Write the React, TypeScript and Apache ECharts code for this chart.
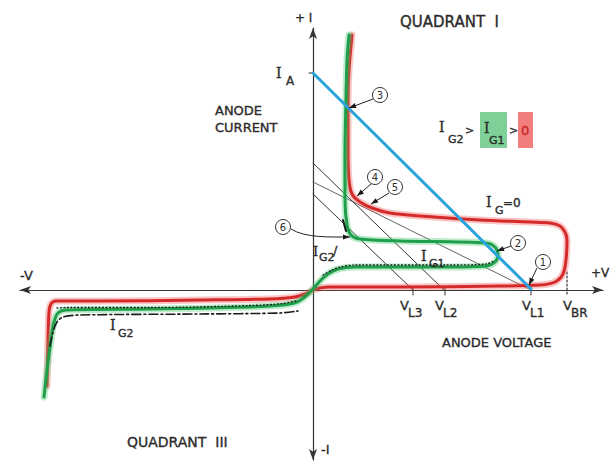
import React, { useEffect, useRef } from "react";
import * as echarts from "echarts";

// Chart units: X = voltage (origin at axis crossing), Y = current
const redCurve: number[][] = [
  [-266, -96], [-265, -50], [-264, -22], [-262, -14], [-257, -11], [-213, -11], [-113, -10],
  [-43, -9], [-18, -7], [-8, -4], [0, 0], [7, 2], [17, 3], [87, 3], [187, 4], [227, 5],
  [242, 8], [250, 16], [253, 30], [254, 50], [252, 58], [247, 64], [237, 67], [217, 68],
  [167, 70], [107, 74], [77, 77], [59, 82], [47, 88], [39, 96], [36, 110], [35, 140],
  [35, 190], [36, 220], [39, 255],
];
const greenCurve: number[][] = [
  [-269, -107], [-266, -80], [-262, -50], [-259, -32], [-255, -23], [-247, -20], [-163, -19],
  [-63, -17], [-30, -15], [-16, -12], [-7, -6], [0, 1], [7, 9], [15, 16], [25, 21], [42, 23],
  [137, 23], [173, 24], [182, 28], [185, 35], [182, 43], [173, 47], [87, 49], [47, 51],
  [38, 55], [34, 65], [32, 90], [32, 140], [33, 190], [34, 230], [36, 255],
];
const dottedG2Q3: number[][] = [
  [-256, -18], [-246, -17.5], [-163, -17.5], [-63, -15.5], [-30, -13.5], [-16, -10.5],
];
const dottedG2Q1: number[][] = [
  [10, 15], [18, 19.5], [27, 23], [42, 25], [137, 25], [173, 26], [181, 29],
];
const dashedG2: number[][] = [
  [-263, -56], [-260, -42], [-256, -32], [-250, -27], [-233, -25], [-113, -24], [-33, -23], [-15, -21],
];
const g2Short: number[][] = [[30, 70], [33, 59]];
const blueLoadLine: number[][] = [[0, 217], [218, 1]];
const loadLineL1: number[][] = [[0, 108], [218, 0]];
const loadLineL2: number[][] = [[0, 127], [131, 0]];
const loadLineL3: number[][] = [[0, 96], [100, 0]];
const iaTick: number[][] = [[-4, 217], [0, 217]];
const vTickX: number[] = [100, 132, 218];
const vbrX = 254;
const vbrLine: number[][] = [[vbrX, 18], [vbrX, -5]];

const INK = "#2b2b2b";
const SANS = '"DejaVu Sans"';
const SERIF = '"DejaVu Serif"';

function txt(x: number, y: number, text: string, size = 13, extra: any = {}) {
  const fill = extra.fill || INK;
  return {
    type: "text",
    x,
    y,
    z: 100,
    silent: true,
    style: {
      text,
      font: `${size}px ${extra.family || SANS}`,
      fill,
      stroke: fill,
      lineWidth: 0.35,
      align: "left",
      verticalAlign: "middle",
      textAlign: "left",
      textVerticalAlign: "middle",
    },
  };
}

function arrowHead(x1: number, y1: number, x2: number, y2: number, len = 7, w = 2.6) {
  const dx = x2 - x1, dy = y2 - y1;
  const L = Math.hypot(dx, dy);
  const ux = dx / L, uy = dy / L;
  const bx = x2 - ux * len, by = y2 - uy * len;
  return {
    type: "polygon",
    z: 100,
    silent: true,
    shape: { points: [[x2, y2], [bx - uy * w, by + ux * w], [bx + uy * w, by - ux * w]] },
    style: { fill: "#1a1a1a" },
  };
}

function numCircle(n: string, cx: number, cy: number) {
  return [
    { type: "circle", z: 100, silent: true, shape: { cx, cy, r: 7.5 }, style: { fill: "#fff", stroke: "#333", lineWidth: 1 } },
    {
      type: "text", z: 101, silent: true, x: cx, y: cy + 0.5,
      style: { text: n, font: `10px ${SANS}`, fill: INK, align: "center", verticalAlign: "middle", textAlign: "center", textVerticalAlign: "middle" },
    },
  ];
}

function callout(n: string, cx: number, cy: number, x1: number, y1: number, x2: number, y2: number) {
  return [
    { type: "line", z: 99, silent: true, shape: { x1, y1, x2, y2 }, style: { stroke: "#222", lineWidth: 1 } },
    arrowHead(x1, y1, x2, y2),
    ...numCircle(n, cx, cy),
  ];
}

function line(data: number[][], color: string, width: number, z: number, extra: any = {}) {
  return {
    type: "line",
    data,
    symbol: "none",
    smooth: extra.smooth ?? 0.3,
    clip: false,
    silent: true,
    z,
    lineStyle: { color, width, type: extra.type || "solid", cap: "round", join: "round" },
  };
}

export default function App() {
  const ref = useRef<HTMLDivElement>(null);
  useEffect(() => {
    if (!ref.current) return;
    const chart = echarts.init(ref.current, null, { renderer: "svg" });
    const axisCommon = {
      type: "value",
      splitLine: { show: false },
      axisTick: { show: false },
      axisLabel: { show: false },
      axisLine: {
        show: true,
        onZero: true,
        symbol: ["arrow", "arrow"],
        symbolSize: [6, 11],
        lineStyle: { color: "#333", width: 1.2 },
      },
    };
    const graphic: any[] = [
      txt(295, 18, "+ I", 12),
      txt(400, 22, "QUADRANT  I", 15),
      txt(276, 73, "I", 14, { family: SERIF }),
      txt(286, 81, "A", 12),
      txt(215, 110, "ANODE", 13),
      txt(215, 127, "CURRENT", 13),
      { type: "rect", z: 90, silent: true, shape: { x: 480, y: 112, width: 27, height: 36 }, style: { fill: "#7fcf98" } },
      { type: "rect", z: 90, silent: true, shape: { x: 518, y: 112, width: 15, height: 36 }, style: { fill: "#f27d7d" } },
      txt(439, 127, "I", 14, { family: SERIF }),
      txt(448, 139, "G2", 11),
      txt(465, 130, ">", 11),
      txt(484, 128, "I", 14, { family: SERIF }),
      txt(489, 140, "G1", 11),
      txt(509, 130, ">", 11),
      txt(521, 130, "0", 13, { fill: "#c62828" }),
      txt(486, 202, "I", 14, { family: SERIF }),
      txt(495, 210, "G", 11),
      txt(503, 203, "=0", 12),
      txt(421, 256, "I", 14, { family: SERIF }),
      txt(429, 263, "G1", 11),
      txt(313, 251, "I", 13, { family: SERIF }),
      txt(319, 257, "G2", 11),
      txt(333, 250, "/", 13),
      txt(110, 325, "I", 14, { family: SERIF }),
      txt(118, 333, "G2", 11),
      txt(20, 275, "-V", 13),
      txt(591, 273, "+V", 12),
      txt(321, 449, "-I", 13),
      txt(400, 305, "V", 13), txt(408, 313, "L3", 12),
      txt(435, 305, "V", 13), txt(443, 313, "L2", 12),
      txt(522, 305, "V", 13), txt(530, 313, "L1", 12),
      txt(563, 305, "V", 13), txt(571, 313, "BR", 12),
      txt(442, 342, "ANODE VOLTAGE", 13),
      txt(127, 442, "QUADRANT  III", 14),
      ...callout("1", 543, 262, 537, 268, 529, 285),
      ...callout("2", 518, 243, 511, 246, 497, 251),
      ...callout("3", 380, 95, 373, 99, 349, 108),
      ...callout("4", 375, 177, 371, 184, 357, 196),
      ...callout("5", 395, 187, 389, 193, 371, 204),
      {
        type: "bezierCurve", z: 99, silent: true,
        shape: { x1: 291, y1: 229, x2: 350, y2: 237, cpx1: 305, cpy1: 238, cpx2: 330, cpy2: 237 },
        style: { stroke: "#222", lineWidth: 1, fill: "none" },
      },
      arrowHead(335, 237, 350, 237),
      ...numCircle("6", 283, 227),
    ];

    const tickSeries = vTickX.map((x) => line([[x, 3], [x, -5]], "#333", 1, 5, { smooth: false }));

    chart.setOption({
      animation: false,
      backgroundColor: "#fff",
      grid: { left: 20, right: 7, top: 28, bottom: 4, containLabel: false },
      xAxis: { ...axisCommon, min: -293, max: 290 },
      yAxis: { ...axisCommon, min: -170, max: 262 },
      series: [
        line(loadLineL1, "#666", 1, 3, { smooth: false }),
        line(loadLineL2, "#333", 1, 3, { smooth: false }),
        line(loadLineL3, "#333", 1, 3, { smooth: false }),
        line(iaTick, "#333", 1.2, 3, { smooth: false }),
        ...tickSeries,
        line(vbrLine, "#333", 1.2, 5, { smooth: false, type: [2, 2] }),
        line(redCurve, "rgba(240,90,90,0.35)", 7, 6),
        line(redCurve, "#d42a2a", 3, 7),
        line(greenCurve, "rgba(70,200,110,0.35)", 7, 8),
        line(greenCurve, "#1f9e4c", 3, 9),
        line(dashedG2, "#1a1a1a", 1.6, 10, { type: [9, 3, 2, 3] }),
        line(dottedG2Q3, "#1a1a1a", 1.3, 10, { type: [1, 2.5] }),
        line(dottedG2Q1, "#1a1a1a", 1.3, 10, { type: [1, 2.5] }),
        line(g2Short, "#1a1a1a", 2, 10, { smooth: false }),
        line(blueLoadLine, "#2aa3dc", 3, 11, { smooth: false }),
      ],
      graphic,
    });
    return () => chart.dispose();
  }, []);
  return (
    <div
      ref={ref}
      style={{ position: "absolute", left: 0, top: 0, width: 610, height: 464, background: "#fff" }}
    />
  );
}
